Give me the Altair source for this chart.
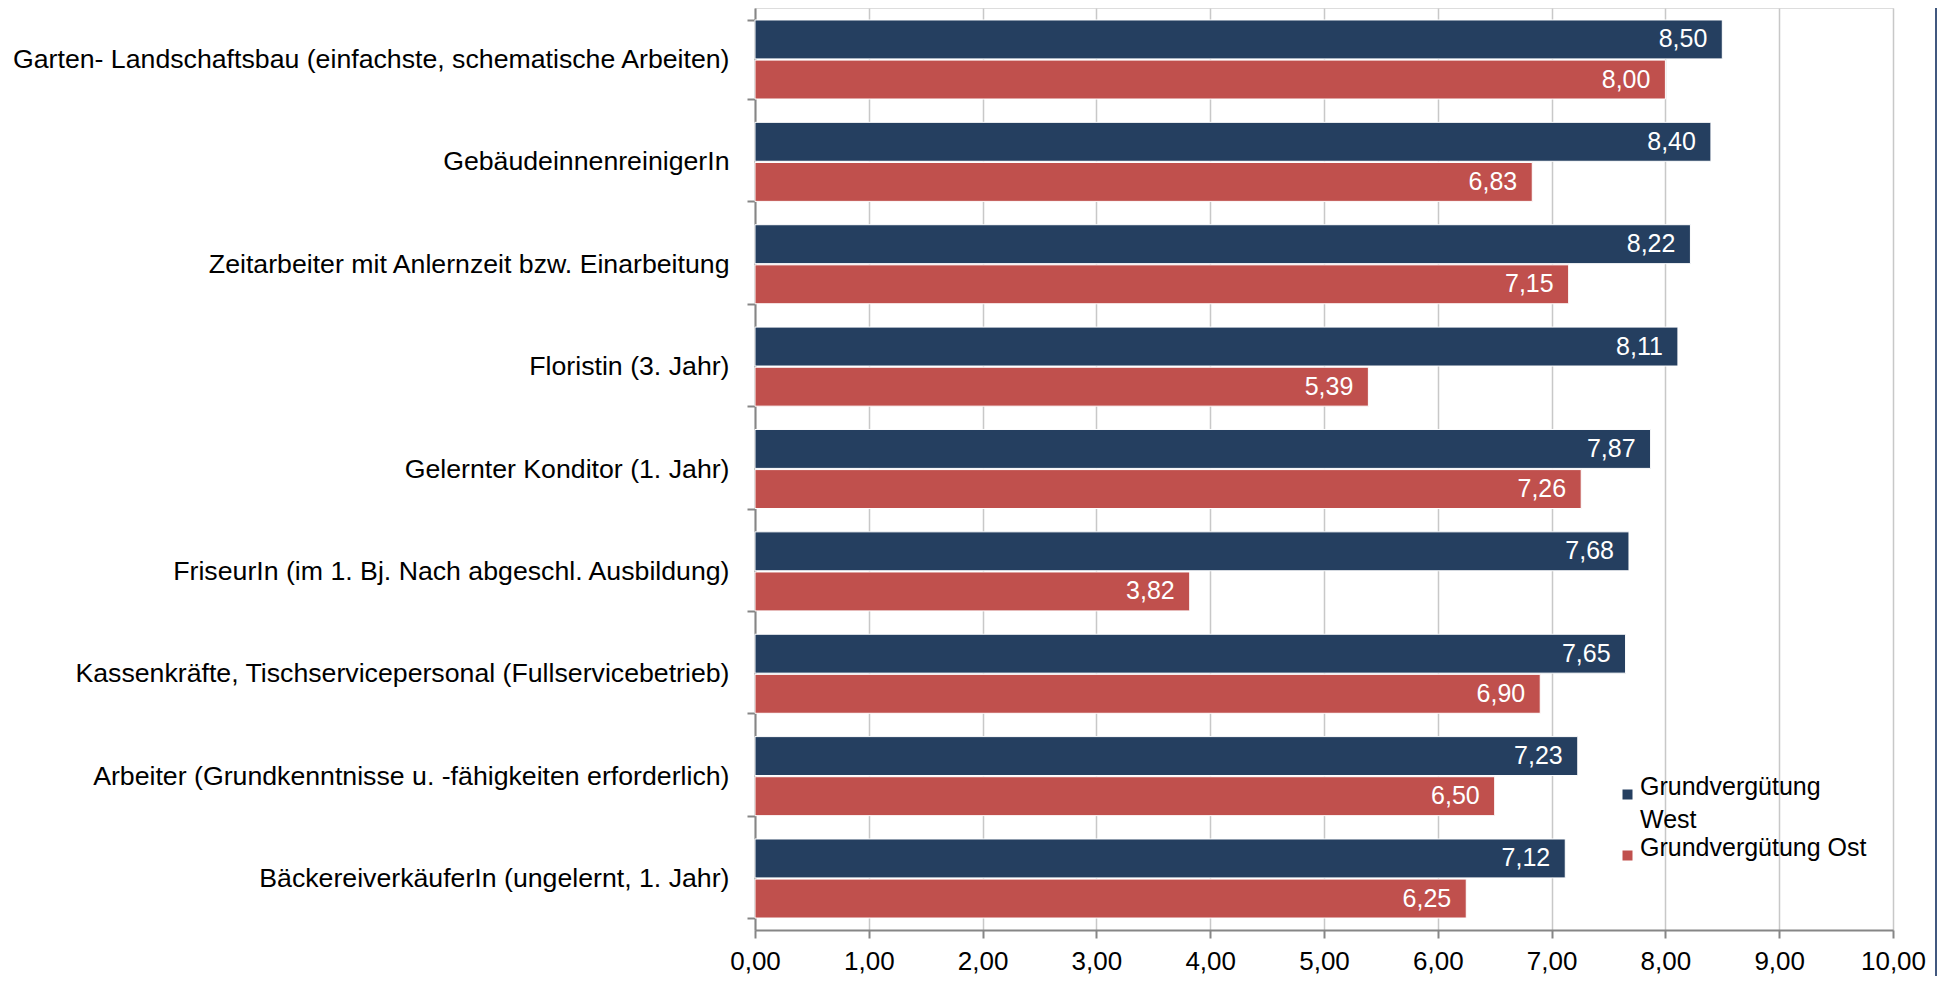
import altair as alt
import pandas as pd

categories = [
    "Garten- Landschaftsbau (einfachste, schematische Arbeiten)",
    "GebäudeinnenreinigerIn",
    "Zeitarbeiter mit Anlernzeit bzw. Einarbeitung",
    "Floristin (3. Jahr)",
    "Gelernter Konditor (1. Jahr)",
    "FriseurIn (im 1. Bj. Nach abgeschl. Ausbildung)",
    "Kassenkräfte, Tischservicepersonal (Fullservicebetrieb)",
    "Arbeiter (Grundkenntnisse u. -fähigkeiten erforderlich)",
    "BäckereiverkäuferIn (ungelernt, 1. Jahr)",
]
west = [8.50, 8.40, 8.22, 8.11, 7.87, 7.68, 7.65, 7.23, 7.12]
ost = [8.00, 6.83, 7.15, 5.39, 7.26, 3.82, 6.90, 6.50, 6.25]
series = ["Grundvergütung West", "Grundvergütung Ost"]
colors = ["#253F60", "#C0504D"]
x_ticks = [0, 1, 2, 3, 4, 5, 6, 7, 8, 9, 10]

rows = []
for c, w, o in zip(categories, west, ost):
    rows.append({"Kategorie": c, "Serie": series[0], "Wert": w})
    rows.append({"Kategorie": c, "Serie": series[1], "Wert": o})
df = pd.DataFrame(rows)
df["Label"] = df["Wert"].map(lambda v: f"{v:.2f}".replace(".", ","))

FONT = "Liberation Sans"
GRAY = "#868686"

y_enc = alt.Y(
    "Kategorie:N",
    sort=categories,
    scale=alt.Scale(paddingInner=0.228, paddingOuter=0.117),
    axis=alt.Axis(
        title=None,
        labelFont=FONT,
        labelFontSize=26.7,
        labelColor="#000000",
        labelPadding=18,
        labelLimit=1000,
        tickSize=8,
        tickWidth=2,
        tickColor=GRAY,
        domainColor=GRAY,
        domainWidth=2,
        tickBand="extent",
        grid=False,
    ),
)
yoff_enc = alt.YOffset("Serie:N", sort=series, scale=alt.Scale(paddingInner=0.03))
x_enc = alt.X(
    "Wert:Q",
    scale=alt.Scale(domain=[0, 10], nice=False),
    axis=alt.Axis(
        title=None,
        values=x_ticks,
        labelExpr="replace(format(datum.value, '.2f'), '.', ',')",
        labelFont=FONT,
        labelFontSize=26,
        labelColor="#000000",
        labelAlign="center",
        labelFlush=False,
        labelPadding=10,
        tickSize=8,
        tickWidth=2,
        tickColor=GRAY,
        domainColor=GRAY,
        domainWidth=2,
        grid=True,
        gridColor="#c8c8c8",
        gridWidth=1.5,
    ),
)

bars = alt.Chart(df).mark_bar(stroke="white", strokeWidth=1).encode(
    y=y_enc,
    yOffset=yoff_enc,
    x=x_enc,
    color=alt.Color(
        "Serie:N",
        sort=series,
        scale=alt.Scale(domain=series, range=colors),
        legend=alt.Legend(
            title=None,
            orient="none",
            legendX=860,
            legendY=774,
            padding=0,
            symbolType="square",
            symbolSize=100,
            symbolStrokeWidth=0,
            labelFont=FONT,
            labelFontSize=25,
            labelColor="#000000",
            labelOffset=0,
            labelLimit=500,
            labelBaseline="alphabetic",
            rowPadding=2,
            labelExpr="datum.label == 'Grundvergütung West' ? ['Grundvergütung', 'West'] : datum.label",
        ),
    ),
)

labels = alt.Chart(df).mark_text(
    align="right", baseline="middle", dx=-15, color="white", fontSize=25, font=FONT
).encode(
    y=alt.Y("Kategorie:N", sort=categories),
    yOffset=alt.YOffset("Serie:N", sort=series),
    x=alt.X("Wert:Q"),
    text="Label:N",
)

frame = alt.Chart(pd.DataFrame({"k": [0]})).mark_rule(color="#41587F", strokeWidth=2).encode(
    x=alt.value(1181), y=alt.value(-8), y2=alt.value(968)
)

chart = (
    alt.layer(bars, labels, frame)
    .properties(
        width=1138,
        height=922,
        autosize=alt.AutoSizeParams(type="none"),
        padding={"left": 747, "top": 0, "right": 44, "bottom": 46},
        background="white",
    )
    .configure_view(stroke=None)
    .configure(style={"guide-label": {"lineHeight": 33}})
)

chart.save("out.html", embed_options={"renderer": "svg", "actions": False})
